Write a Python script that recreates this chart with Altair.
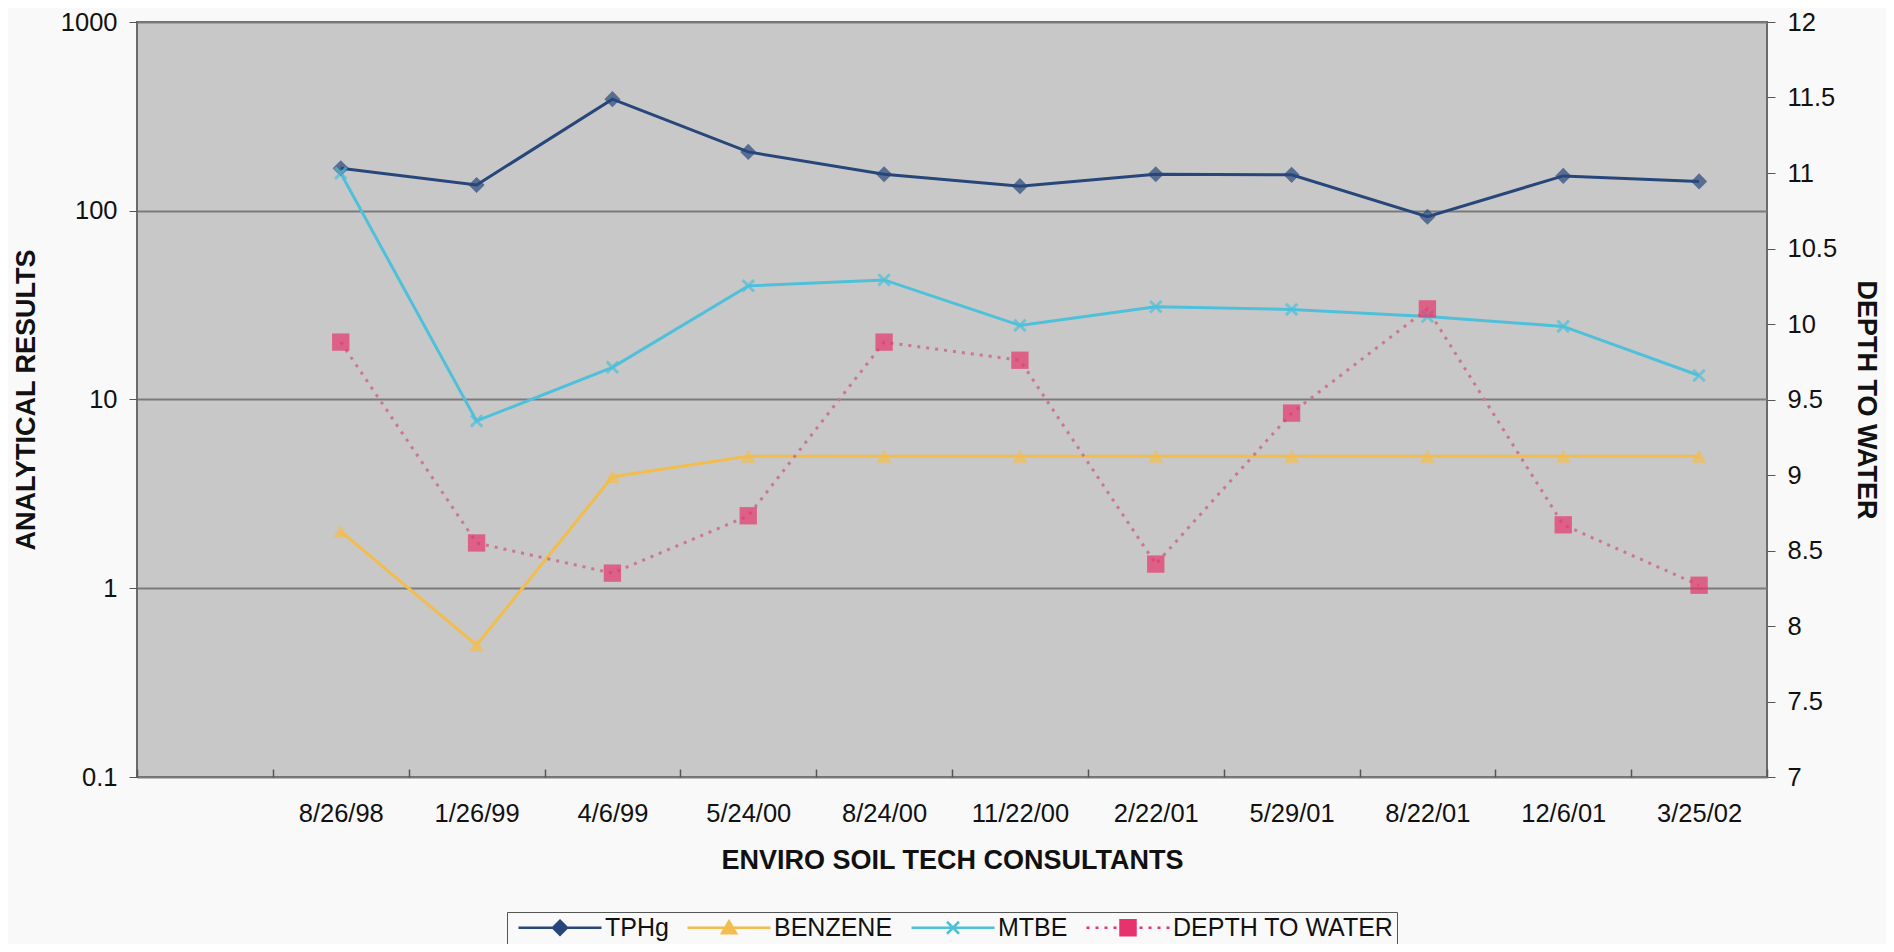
import altair as alt
import pandas as pd

# ---- data ----
categories = [" ", "8/26/98", "1/26/99", "4/6/99", "5/24/00", "8/24/00", "11/22/00",
              "2/22/01", "5/29/01", "8/22/01", "12/6/01", "3/25/02"]
dates = categories[1:]
tphg = [168, 137, 390, 205, 156, 135, 156, 155, 93, 153, 143]
benzene = [2.0, 0.5, 3.9, 5, 5, 5, 5, 5, 5, 5, 5]
mtbe = [158, 7.7, 14.8, 40, 43, 24.7, 31, 30, 27.5, 24.4, 13.4]
depth = [9.88, 8.55, 8.35, 8.73, 9.88, 9.76, 8.41, 9.41, 10.10, 8.67, 8.27]

series_names = ["TPHg", "BENZENE", "MTBE", "DEPTH TO WATER"]
series_colors = ["#27477a", "#f2bd4c", "#4fc0da", "#e6336b"]
left_ticks = [0.1, 1, 10, 100, 1000]
right_ticks = [7, 7.5, 8, 8.5, 9, 9.5, 10, 10.5, 11, 11.5, 12]

rows = []
for name, vals in [("TPHg", tphg), ("BENZENE", benzene), ("MTBE", mtbe)]:
    for d, v in zip(dates, vals):
        rows.append({"date": d, "series": name, "value": v})
left_df = pd.DataFrame(rows)
right_df = pd.DataFrame({"date": dates, "series": "DEPTH TO WATER", "depth": depth})

FONT = "Liberation Sans"
TXT = "#111111"

xscale = alt.Scale(type="band", domain=categories, paddingInner=0, paddingOuter=0)
xaxis = alt.Axis(title="ENVIRO SOIL TECH CONSULTANTS", tickBand="extent", offset=-8,
                 tickSize=8, tickColor="#555555", tickWidth=1.5, domain=False, labelAngle=0,
                 labelFontSize=25.5, labelFont=FONT, labelColor=TXT, labelPadding=24,
                 titleFontSize=27, titleFont=FONT, titleFontWeight="bold", titleColor=TXT,
                 titlePadding=21, grid=False)
X = alt.X("date:N", scale=xscale, axis=xaxis)

yscale = alt.Scale(type="log", domain=[0.1, 1000])
yaxis = alt.Axis(title="ANALYTICAL RESULTS", values=left_ticks, format="~g", grid=True,
                 gridColor="#7b7b7b", gridWidth=2, tickSize=8, tickColor="#555555",
                 domain=False, labelFontSize=25.5, labelFont=FONT, labelColor=TXT,
                 labelPadding=12, titleFontSize=27, titleFont=FONT, titleFontWeight="bold",
                 titleColor=TXT, titlePadding=20)
Y = alt.Y("value:Q", scale=yscale, axis=yaxis)

base_left = alt.Chart(left_df)


def series_line(name, color):
    return base_left.transform_filter(alt.datum.series == name).mark_line(
        strokeWidth=3, color=color).encode(x=X, y=Y)


lines_left = [series_line(n, c) for n, c in zip(series_names[:3], series_colors[:3])]

pts_tphg = base_left.transform_filter(alt.datum.series == "TPHg").mark_point(
    shape="diamond", filled=True, size=260, color=series_colors[0]).encode(x=X, y=Y)
pts_benz = base_left.transform_filter(alt.datum.series == "BENZENE").mark_point(
    shape="triangle-up", filled=True, size=220, color=series_colors[1]).encode(x=X, y=Y)
pts_mtbe = base_left.transform_filter(alt.datum.series == "MTBE").mark_point(
    shape="M-1,-1L1,1M-1,1L1,-1", filled=False, size=130, strokeWidth=3,
    color=series_colors[2]).encode(x=X, y=Y)

# legend symbols: a line with the marker in its middle (1 unit = 10 px)
LINE = "M-0.4,0L7.9,0"
legend_paths = [
    LINE + "M3.75,-0.7L4.45,0L3.75,0.7L3.05,0Z",
    LINE + "M3.75,-0.65L4.45,0.55L3.05,0.55Z",
    LINE + "M3.15,-0.6L4.35,0.6M3.15,0.6L4.35,-0.6",
    "M-0.4,-0L-0.1,0M0.5,0L0.8,0M1.4,0L1.7,0M2.3,0L2.6,0"
    "M4.9,0L5.2,0M5.8,0L6.1,0M6.7,0L7.0,0M7.6,0L7.9,0"
    "M3.0,-0.75L4.5,-0.75L4.5,0.75L3.0,0.75Z",
]
leg = alt.Legend(title=None, orient="none", legendX=370, legendY=890, direction="horizontal",
                 columns=4, symbolSize=400, symbolStrokeWidth=2.5, symbolOpacity=1,
                 labelFontSize=25, labelFont=FONT, labelColor=TXT, labelOffset=70,
                 labelLimit=500, columnPadding=10, padding=3, strokeColor="#555555",
                 fillColor="#f9f9f9")
legend_layer = base_left.mark_point(filled=True, opacity=0).encode(
    x=X, y=Y,
    fill=alt.Fill("series:N", scale=alt.Scale(domain=series_names, range=series_colors), legend=leg),
    stroke=alt.Stroke("series:N", scale=alt.Scale(domain=series_names, range=series_colors), legend=leg),
    shape=alt.Shape("series:N", scale=alt.Scale(domain=series_names, range=legend_paths), legend=leg),
)

left = alt.layer(*lines_left, pts_tphg, pts_benz, pts_mtbe, legend_layer)

y2scale = alt.Scale(domain=[7, 12], nice=False, zero=False)
y2axis = alt.Axis(title="DEPTH TO WATER", orient="right", values=right_ticks, format="~g",
                  grid=False, tickSize=8, tickColor="#555555", domain=False,
                  labelFontSize=25.5, labelFont=FONT, labelColor=TXT, labelPadding=12,
                  titleFontSize=27, titleFont=FONT, titleFontWeight="bold", titleColor=TXT,
                  titlePadding=15)
Y2 = alt.Y("depth:Q", scale=y2scale, axis=y2axis)

base_right = alt.Chart(right_df)
depth_line = base_right.mark_line(strokeWidth=3, strokeDash=[3, 6], color="#c9788f").encode(x=X, y=Y2)
depth_pts = base_right.mark_point(shape="square", filled=True, size=300,
                                  color=series_colors[3]).encode(x=X, y=Y2)
right = alt.layer(depth_line, depth_pts)

chart = alt.layer(left, right).resolve_scale(y="independent").properties(
    width=1630, height=755,
    autosize=alt.AutoSizeParams(type="none"),
    padding={"left": 129, "top": 14, "right": 119, "bottom": 167},
    background="#f9f9f9",
).configure_view(fill="#c8c8c8", stroke="#6b6b6b", strokeWidth=2)

chart.save("out.html", embed_options={"renderer": "svg", "actions": False})
